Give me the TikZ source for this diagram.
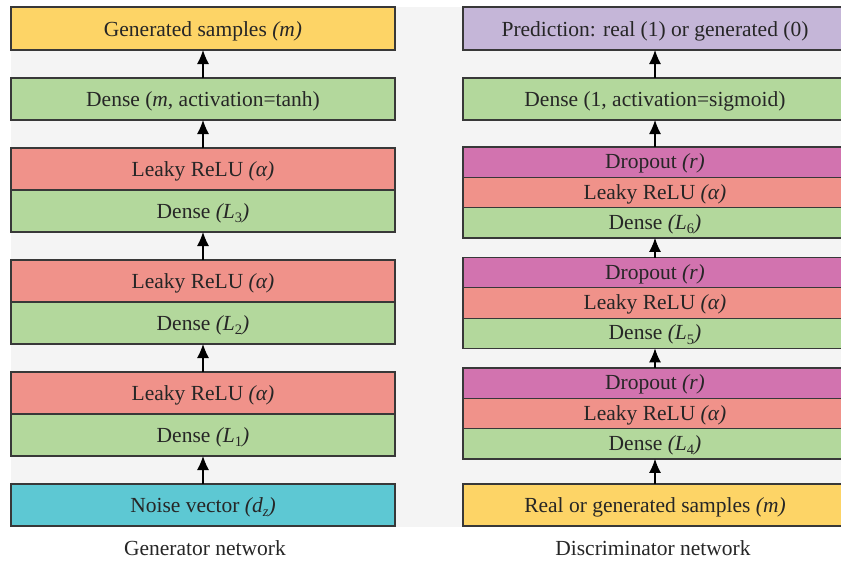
\documentclass[tikz,border=0pt]{standalone}
\usepackage{fontspec}
\setmainfont{Liberation Serif}
\usetikzlibrary{arrows.meta}
\definecolor{bgray}{HTML}{F4F4F4}
\definecolor{cyel}{HTML}{FDD466}
\definecolor{cgrn}{HTML}{B3D89C}
\definecolor{cred}{HTML}{F0928A}
\definecolor{ccya}{HTML}{5DC8D3}
\definecolor{clav}{HTML}{C5B6D8}
\definecolor{cmag}{HTML}{D273AF}
\definecolor{cedge}{HTML}{383838}
\newcommand\sbx[1]{\raisebox{-0.45ex}{\fontsize{14.5}{15}\selectfont #1}}
\begin{document}
\begin{tikzpicture}[x=1pt,y=-1pt,
  blk/.style={draw=cedge, line width=1.2pt, minimum width=384pt, inner sep=0pt, outer sep=0pt,
    font=\fontsize{21.5}{24}\selectfont, text=black!85, text height=19pt, text depth=4pt},
  tallblk/.style={blk, minimum height=42pt},
  slimblk/.style={blk, minimum height=30.3pt, text height=17pt, text depth=4pt},
  arr/.style={-{Latex[length=14pt,width=12pt]}, line width=1.1pt, draw=black},
  captxt/.style={font=\fontsize{21.5}{24}\selectfont, text=black!85}]
\useasboundingbox (0,0) rectangle (841,565);
\fill[white] (0,0) rectangle (841,565);
\fill[bgray] (11,7) rectangle (841,527);
% Generator
\node[tallblk, fill=cyel, minimum height=43pt] (gout) at (203,28.5) {Generated samples \textit{(m)}};
\node[tallblk, fill=cgrn] (gd) at (203,99) {Dense (\textit{m}, activation=tanh)};
\node[tallblk, fill=cred] (gr3) at (203,169) {Leaky ReLU \textit{(α)}};
\node[tallblk, fill=cgrn] (gd3) at (203,211) {Dense \textit{(L}\sbx{3}\textit{)}};
\node[tallblk, fill=cred] (gr2) at (203,281) {Leaky ReLU \textit{(α)}};
\node[tallblk, fill=cgrn] (gd2) at (203,323) {Dense \textit{(L}\sbx{2}\textit{)}};
\node[tallblk, fill=cred] (gr1) at (203,393) {Leaky ReLU \textit{(α)}};
\node[tallblk, fill=cgrn] (gd1) at (203,435) {Dense \textit{(L}\sbx{1}\textit{)}};
\node[tallblk, fill=ccya] (gin) at (203,505) {Noise vector \textit{(d\sbx{z})}};
\draw[arr] (gin.north) -- (gd1.south);
\draw[arr] (gr1.north) -- (gd2.south);
\draw[arr] (gr2.north) -- (gd3.south);
\draw[arr] (gr3.north) -- (gd.south);
\draw[arr] (gd.north) -- (gout.south);
\node[captxt] (gcap) at (205,548) {Generator network};
% Discriminator
\node[tallblk, fill=clav, minimum height=43pt] (dout) at (655,28.5) {Prediction: real (1) or generated (0)};
\node[tallblk, fill=cgrn] (dd) at (655,99) {Dense (1, activation=sigmoid)};
\node[slimblk, fill=cmag] (dp6) at (655,162.2) {Dropout \textit{(r)}};
\node[slimblk, fill=cred] (dr6) at (655,192.5) {Leaky ReLU \textit{(α)}};
\node[slimblk, fill=cgrn] (dd6) at (655,222.8) {Dense \textit{(L}\sbx{6}\textit{)}};
\node[slimblk, fill=cmag] (dp5) at (655,272.7) {Dropout \textit{(r)}};
\node[slimblk, fill=cred] (dr5) at (655,303) {Leaky ReLU \textit{(α)}};
\node[slimblk, fill=cgrn] (dd5) at (655,333.3) {Dense \textit{(L}\sbx{5}\textit{)}};
\node[slimblk, fill=cmag] (dp4) at (655,383.2) {Dropout \textit{(r)}};
\node[slimblk, fill=cred] (dr4) at (655,413.5) {Leaky ReLU \textit{(α)}};
\node[slimblk, fill=cgrn] (dd4) at (655,443.8) {Dense \textit{(L}\sbx{4}\textit{)}};
\node[tallblk, fill=cyel] (din) at (655,505) {Real or generated samples \textit{(m)}};
\draw[arr] (din.north) -- (dd4.south);
\draw[arr] (dp4.north) -- (dd5.south);
\draw[arr] (dp5.north) -- (dd6.south);
\draw[arr] (dp6.north) -- (dd.south);
\draw[arr] (dd.north) -- (dout.south);
\node[captxt] (dcap) at (653,548) {Discriminator network};
\end{tikzpicture}
\end{document}
